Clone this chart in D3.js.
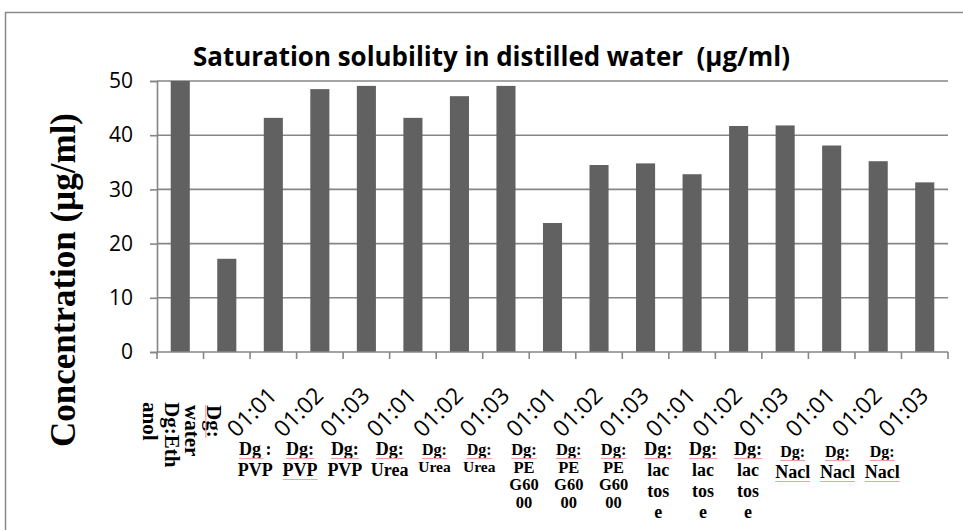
<!DOCTYPE html>
<html>
<head>
<meta charset="utf-8">
<script src="https://cdn.jsdelivr.net/npm/d3@7"></script>
<style>
  html, body { margin: 0; padding: 0; background: #fff; }
  svg { display: block; }
</style>
</head>
<body>
<svg id="chart" width="963" height="530"></svg>
<script>
// ---------------- data ----------------
const chartTitle = "Saturation solubility in distilled water  (\u00b5g/ml)";
const yAxisTitle = "Concentration (\u00b5g/ml)";
const categories = [
  "Dg:Ethanol", "Dg: water",
  "Dg : PVP 01:01", "Dg: PVP 01:02", "Dg: PVP 01:03",
  "Dg: Urea 01:01", "Dg: Urea 01:02", "Dg: Urea 01:03",
  "Dg: PEG6000 01:01", "Dg: PEG6000 01:02", "Dg: PEG6000 01:03",
  "Dg: lactose 01:01", "Dg: lactose 01:02", "Dg: lactose 01:03",
  "Dg: Nacl 01:01", "Dg: Nacl 01:02", "Dg: Nacl 01:03"
];
const values = [50, 17.2, 43.2, 48.5, 49.1, 43.2, 47.2, 49.1, 23.8, 34.5, 34.8, 32.8, 41.7, 41.8, 38.1, 35.2, 31.3];
const ratioLabels = ["", "", "01:01", "01:02", "01:03", "01:01", "01:02", "01:03", "01:01", "01:02", "01:03", "01:01", "01:02", "01:03", "01:01", "01:02", "01:03"];
const labelLines = [
  ["Dg:Eth", "anol"], ["Dg:", "water"],
  ["Dg :", "PVP"], ["Dg:", "PVP"], ["Dg:", "PVP"],
  ["Dg:", "Urea"], ["Dg:", "Urea"], ["Dg:", "Urea"],
  ["Dg:", "PE", "G60", "00"], ["Dg:", "PE", "G60", "00"], ["Dg:", "PE", "G60", "00"],
  ["Dg:", "lac", "tos", "e"], ["Dg:", "lac", "tos", "e"], ["Dg:", "lac", "tos", "e"],
  ["Dg:", "Nacl"], ["Dg:", "Nacl"], ["Dg:", "Nacl"]
];
const yTicks = [0, 10, 20, 30, 40, 50];

// ---------------- layout ----------------
const svg = d3.select("#chart");
const plot = { left: 157, right: 948, top: 81, bottom: 352 };
const gridColor = "#868686";
const barColor = "#616161";
const squiggle = "#f2a0a0";
const sans = "'Open Sans', sans-serif";
const serif = "'Liberation Serif', 'Times New Roman', serif";

// outer chart frame
svg.append("rect")
  .attr("x", 5.5).attr("y", 12.5)
  .attr("width", 1000).attr("height", 600)
  .attr("fill", "none").attr("stroke", "#8a8a8a").attr("stroke-width", 1.5);

const x = d3.scaleBand()
  .domain(d3.range(categories.length))
  .range([plot.left, plot.right])
  .padding(0);
const y = d3.scaleLinear().domain([0, 50]).range([plot.bottom, plot.top]);
const cx = i => x(i) + x.bandwidth() / 2;
const barW = x.bandwidth() * 0.41;

// gridlines
svg.append("g").selectAll("line")
  .data(yTicks.filter(t => t > 0))
  .join("line")
  .attr("x1", plot.left).attr("x2", plot.right)
  .attr("y1", d => y(d)).attr("y2", d => y(d))
  .attr("stroke", gridColor).attr("stroke-width", 1.6);

// y axis
const yAxis = d3.axisLeft(y).tickValues(yTicks).tickSize(7).tickPadding(17);
const gy = svg.append("g").attr("transform", `translate(${plot.left},0)`).call(yAxis);
gy.select(".domain").attr("stroke", gridColor).attr("stroke-width", 1.6);
gy.selectAll(".tick line").attr("stroke", gridColor).attr("stroke-width", 1.6);
gy.selectAll(".tick text")
  .attr("fill", "#000")
  .style("font-family", sans)
  .style("font-size", "21px");

// bars
svg.append("g").selectAll("rect")
  .data(values)
  .join("rect")
  .attr("x", (d, i) => cx(i) - barW / 2)
  .attr("width", barW)
  .attr("y", d => y(d))
  .attr("height", d => y(0) - y(d))
  .attr("fill", barColor);

// x axis (baseline + boundary ticks)
const gx = svg.append("g");
gx.append("line")
  .attr("x1", plot.left).attr("x2", plot.right)
  .attr("y1", y(0)).attr("y2", y(0))
  .attr("stroke", gridColor).attr("stroke-width", 1.6);
gx.selectAll("line.tk")
  .data(d3.range(categories.length + 1))
  .join("line").attr("class", "tk")
  .attr("x1", i => plot.left + i * x.step()).attr("x2", i => plot.left + i * x.step())
  .attr("y1", y(0)).attr("y2", y(0) + 7)
  .attr("stroke", gridColor).attr("stroke-width", 1.6);

// rotated ratio labels
svg.append("g").selectAll("text")
  .data(ratioLabels.map((t, i) => ({ t, i })).filter(d => d.t))
  .join("text")
  .attr("transform", d => `translate(${cx(d.i) + 5},${397}) rotate(-45)`)
  .attr("text-anchor", "end")
  .style("font-family", sans)
  .style("font-size", "23px")
  .attr("fill", "#000")
  .text(d => d.t);

// vertical labels for first two categories
[0, 1].forEach(i => {
  const g = svg.append("g");
  const baseX = cx(i) - (i === 0 ? 15 : 20);
  const topY = i === 0 ? 402 : 405;
  labelLines[i].forEach((line, k) => {
    g.append("text")
      .attr("transform", `translate(${baseX - k * 22},${topY}) rotate(90)`)
      .attr("text-anchor", "start")
      .style("font-family", serif)
      .style("font-weight", "bold")
      .style("font-size", "21px")
      .attr("fill", "#000")
      .text(line);
  });
  if (i === 1) {
    g.append("line")
      .attr("x1", baseX - 1).attr("x2", baseX - 1)
      .attr("y1", topY).attr("y2", topY + 33)
      .attr("stroke", squiggle).attr("stroke-width", 1.2);
  }
});

// horizontal wrapped labels
const labelX = i => cx(i) - 18 - 1.75 * (i - 2);
const underlined = w => w.startsWith("Dg") || w === "PVP" || w === "Nacl";
for (let i = 2; i < categories.length; i++) {
  const lines = labelLines[i];
  const isPEG = categories[i].includes("PEG");
  const isNacl = categories[i].includes("Nacl");
  const smallUrea = i === 6 || i === 7;
  const step = isPEG ? 17.5 : (smallUrea ? 17 : 21);
  const first = isNacl ? 457 : 455;
  const g = svg.append("g");
  lines.forEach((line, k) => {
    let fs = isPEG ? 16.5 : (smallUrea ? 15.5 : 18);
    if (k === 0 && (isNacl || smallUrea)) fs = 16;
    const t = g.append("text")
      .attr("x", labelX(i))
      .attr("y", first + k * step)
      .attr("text-anchor", "middle")
      .style("font-family", serif)
      .style("font-weight", "bold")
      .style("font-size", fs + "px")
      .attr("fill", "#000")
      .text(line);
    const showLine = (k === 0) || (line === "Nacl") || (line === "PVP" && i === 3);
    if (showLine && underlined(line)) {
      const bb = t.node().getBBox();
      const w = line === "Dg :" ? bb.width * 0.75 : bb.width;
      g.append("line")
        .attr("x1", bb.x).attr("x2", bb.x + w)
        .attr("y1", first + k * step + 3.5).attr("y2", first + k * step + 3.5)
        .attr("stroke", squiggle).attr("stroke-width", 1.2);
    }
  });
}

// chart title
svg.append("text")
  .attr("x", 491.5).attr("y", 66)
  .attr("text-anchor", "middle")
  .attr("textLength", 597).attr("lengthAdjust", "spacingAndGlyphs")
  .style("white-space", "pre")
  .style("font-family", sans)
  .style("font-weight", "bold")
  .style("font-size", "26px")
  .attr("fill", "#000")
  .text(chartTitle);

// y axis title
svg.append("text")
  .attr("transform", `translate(75,280) rotate(-90)`)
  .attr("text-anchor", "middle")
  .attr("textLength", 334).attr("lengthAdjust", "spacingAndGlyphs")
  .style("font-family", serif)
  .style("font-weight", "bold")
  .style("font-size", "36px")
  .attr("fill", "#000")
  .text(yAxisTitle);
</script>
</body>
</html>
